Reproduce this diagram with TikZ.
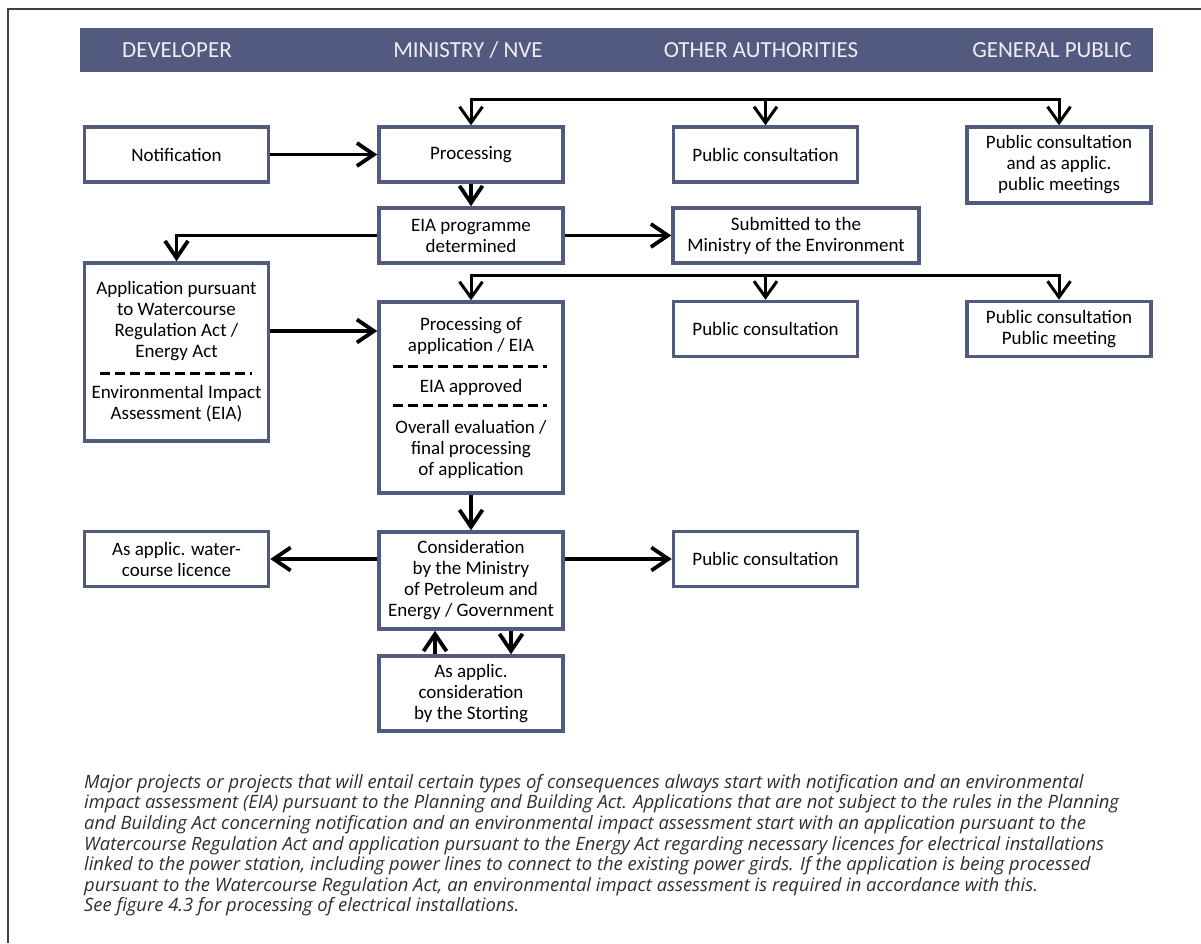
\documentclass[tikz,border=0pt]{standalone}
\usepackage{fontspec}
\setmainfont{Carlito}
\newfontfamily\notefont{Open Sans}
\usetikzlibrary{arrows.meta}
\definecolor{slate}{HTML}{525A80}
\definecolor{notegray}{HTML}{2E2E2E}
\tikzstyle{stage} = [rectangle, draw=slate, line width=3.5pt, minimum width=184pt, minimum height=55pt, text centered, align=center, inner sep=2pt, font=\fontsize{19}{21}\selectfont]
\tikzstyle{head} = [text=white!90!slate, font=\fontsize{23}{25}\selectfont]
\tikzstyle{arrow} = [line width=3.8pt, -{Straight Barb[length=17pt,width=23pt]}]
\tikzstyle{busarrow} = [line width=3pt, -{Straight Barb[length=16pt,width=23pt]}]
\tikzstyle{sep} = [line width=3pt, dash pattern=on 10pt off 5pt]
\tikzstyle{note} = [anchor=north west, inner sep=0pt, align=left, text=notegray, font=\notefont\itshape\fontsize{18.4}{20.6}\selectfont]

\begin{document}
\begin{tikzpicture}[x=1pt, y=-1pt]
        \useasboundingbox (0,0) rectangle (1201,943);
        \draw [black!75, line width=1.3pt] (8,943) -- (8,9) -- (1201,9);
        \fill [slate] (80,28) rectangle (1153,72);
        \node [head] at (177,50) (hdev) {DEVELOPER};
        \node [head] at (468,50) (hmin) {MINISTRY / NVE};
        \node [head] at (761,50) (hauth) {OTHER AUTHORITIES};
        \node [head] at (1052,50) (hpub) {GENERAL PUBLIC};

        \node [stage] at (176.5,154.5) (notif) {Notification};
        \node [stage] at (471,154.5) (proc) {Processing};
        \node [stage] at (765.5,154.5) (pubA) {Public consultation};
        \node [stage, minimum height=76pt] at (1059,165) (pubmeetA) {Public consultation\\and as applic.\\public meetings};
        \node [stage] at (471,235.5) (eiaprog) {EIA programme\\determined};
        \node [stage, minimum width=246pt] at (796,235.5) (submit) {Submitted to the\\Ministry of the Environment};
        \node [stage, minimum height=178pt] at (176.5,352) (app) {Application pursuant\\to Watercourse\\Regulation Act /\\Energy Act\\[20pt]Environmental Impact\\Assessment (EIA)};
        \node [stage, minimum height=191pt] at (471,397.5) (procapp) {Processing of\\application / EIA\\[20pt]EIA approved\\[20pt]Overall evaluation /\\final processing\\of application};
        \node [stage] at (765.5,329) (pubB) {Public consultation};
        \node [stage] at (1059,329) (pubmeetB) {Public consultation\\Public meeting};
        \node [stage] at (176.5,559) (licence) {As applic. water-\\course licence};
        \node [stage, minimum height=97pt] at (471,580.5) (consid) {Consideration\\by the Ministry\\of Petroleum and\\Energy / Government};
        \node [stage] at (765.5,559) (pubC) {Public consultation};
        \node [stage, minimum height=75pt] at (471,693.5) (storting) {As applic.\\consideration\\by the Storting};

        \draw [sep] (100,373) -- (252,373);
        \draw [sep] (393,366) -- (547,366);
        \draw [sep] (393,405) -- (547,405);

        \coordinate (busA) at (471,99);
        \coordinate (busB) at (471,275);
        \draw [busarrow] (busA -| pubA) -- (busA) -- (proc);
        \draw [busarrow] (busA -| pubA) -| (pubmeetA);
        \draw [busarrow] (busA -| pubA) -- (pubA);
        \draw [busarrow] (busB -| pubB) -- (busB) -- (procapp);
        \draw [busarrow] (busB -| pubB) -| (pubmeetB);
        \draw [busarrow] (busB -| pubB) -- (pubB);

        \draw [arrow] (notif) -- (proc);
        \draw [arrow] (proc) -- (eiaprog);
        \draw [arrow] (eiaprog) -- (submit);
        \draw [arrow] (eiaprog) -| (app);
        \draw [arrow] ([yshift=21pt]app.east) -- ([yshift=21pt]app.east -| procapp.west);
        \draw [arrow] (procapp) -- (consid);
        \draw [arrow] (consid.west |- licence) -- (licence);
        \draw [arrow] (consid.east |- pubC) -- (pubC);
        \draw [arrow] ([xshift=-36pt]storting.north) -- ([xshift=-36pt]consid.south);
        \draw [arrow] ([xshift=40pt]consid.south) -- ([xshift=40pt]storting.north);

        \node [note] at (84,774) (caption) {Major projects or projects that will entail certain types of consequences always start with notification and an environmental\\
impact assessment (EIA) pursuant to the Planning and Building Act. Applications that are not subject to the rules in the Planning\\
and Building Act concerning notification and an environmental impact assessment start with an application pursuant to the\\
Watercourse Regulation Act and application pursuant to the Energy Act regarding necessary licences for electrical installations\\
linked to the power station, including power lines to connect to the existing power girds. If the application is being processed\\
pursuant to the Watercourse Regulation Act, an environmental impact assessment is required in accordance with this.\\
See figure 4.3 for processing of electrical installations.};
        \end{tikzpicture}
\end{document}
